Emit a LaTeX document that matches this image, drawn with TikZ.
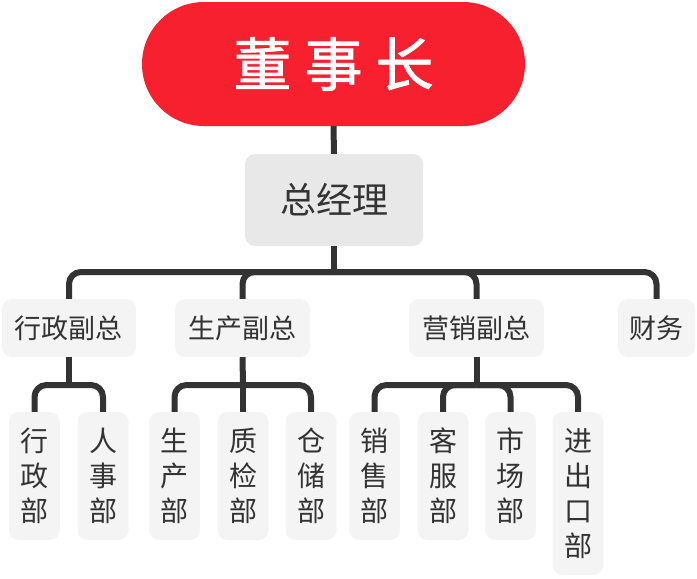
\documentclass[tikz,border=0pt]{standalone}
\usepackage{fontspec}
\newfontfamily\cjk{Noto Sans CJK SC}
\newfontfamily\cjkt[FakeBold=1.4]{Noto Sans CJK SC}
\definecolor{bossred}{HTML}{F7202F}
\definecolor{linegray}{HTML}{333333}
\definecolor{gmfill}{HTML}{E8E8E8}
\definecolor{boxfill}{HTML}{F5F4F4}
\definecolor{txt}{HTML}{333333}
\begin{document}
\begin{tikzpicture}[x=1pt,y=-1pt,
  conn/.style={draw=linegray,line width=6pt,rounded corners=12pt},
  lvltwo/.style={fill=boxfill,rounded corners=10pt,minimum height=58pt,inner sep=0pt,text=txt,font=\cjk\fontsize{27}{30}\selectfont},
  lvlthree/.style={fill=boxfill,rounded corners=10pt,minimum width=51pt,inner sep=0pt,text=txt,align=center,font=\cjk\fontsize{28}{35}\selectfont}]
\useasboundingbox (0,0) rectangle (697,579);
% nodes
\node[fill=bossred,rounded corners=62pt,minimum width=383pt,minimum height=124pt,inner sep=0pt,text=white,font=\cjkt\fontsize{58}{60}\selectfont] (boss) at (333.5,64) {董\hspace{13pt}事\hspace{13pt}长};
\node[fill=gmfill,rounded corners=10pt,minimum width=178pt,minimum height=92pt,inner sep=0pt,text=txt,font=\cjk\fontsize{36}{40}\selectfont] (gm) at (334,200) {总经理};
\node[lvltwo,minimum width=134pt] (xz) at (69,328) {行政副总};
\node[lvltwo,minimum width=135pt] (sc) at (242.5,328) {生产副总};
\node[lvltwo,minimum width=135pt] (yx) at (476.5,328) {营销副总};
\node[lvltwo,minimum width=77pt] (cw) at (656.5,328) {财务};
\node[lvlthree,minimum height=128pt] (d1) at (34.5,476) {行\\政\\部};
\node[lvlthree,minimum height=128pt] (d2) at (103,476) {人\\事\\部};
\node[lvlthree,minimum height=128pt] (d3) at (174.5,476) {生\\产\\部};
\node[lvlthree,minimum height=128pt] (d4) at (243,476) {质\\检\\部};
\node[lvlthree,minimum height=128pt] (d5) at (311,476) {仓\\储\\部};
\node[lvlthree,minimum height=128pt] (d6) at (374.5,476) {销\\售\\部};
\node[lvlthree,minimum height=128pt] (d7) at (443,476) {客\\服\\部};
\node[lvlthree,minimum height=128pt] (d8) at (510.5,476) {市\\场\\部};
\node[lvlthree,minimum height=163pt] (d9) at (578,493.5) {进\\出\\口\\部};
% junctions
\coordinate (j0) at (334,272);
\coordinate (j1) at (69,385);
\coordinate (j2) at (243,385);
\coordinate (j3) at (476.5,385);
% connectors
\draw[conn] (boss.south) -- (gm.north);
\draw[conn] (gm.south) -- (j0);
\draw[conn] (j0) -- (xz.north |- j0) -- (xz.north);
\draw[conn] (j0) -- (sc.north |- j0) -- (sc.north);
\draw[conn] (j0) -- (yx.north |- j0) -- (yx.north);
\draw[conn] (j0) -- (cw.north |- j0) -- (cw.north);
\draw[conn] (xz.south) -- (j1);
\draw[conn] (j1) -- (d1.north |- j1) -- (d1.north);
\draw[conn] (j1) -- (d2.north |- j1) -- (d2.north);
\draw[conn] (sc.south) -- (j2);
\draw[conn] (j2) -- (d3.north |- j2) -- (d3.north);
\draw[conn] (j2) -- (d4.north);
\draw[conn] (j2) -- (d5.north |- j2) -- (d5.north);
\draw[conn] (yx.south) -- (j3);
\draw[conn] (j3) -- (d6.north |- j3) -- (d6.north);
\draw[conn] (j3) -- (d7.north |- j3) -- (d7.north);
\draw[conn] (j3) -- (d8.north |- j3) -- (d8.north);
\draw[conn] (j3) -- (d9.north |- j3) -- (d9.north);
\end{tikzpicture}
\end{document}
